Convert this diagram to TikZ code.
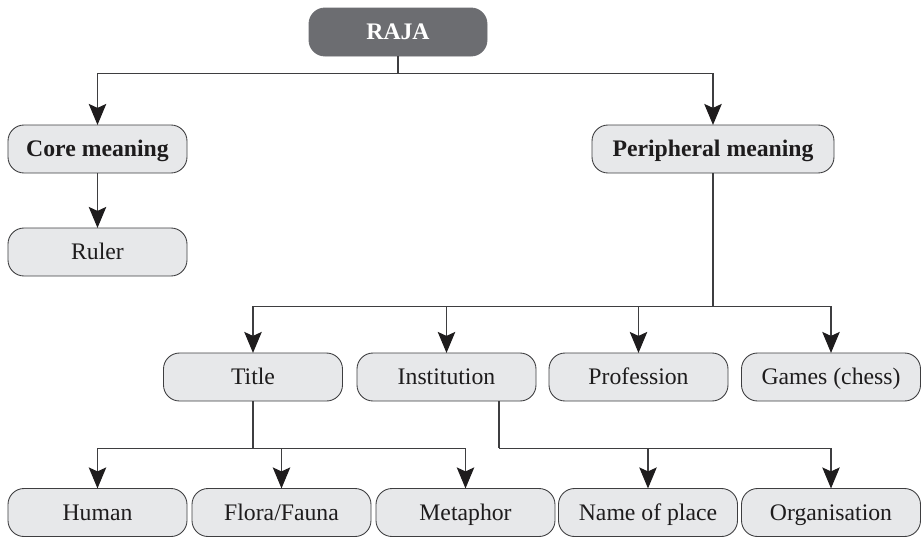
\documentclass[tikz,border=0pt]{standalone}
\usepackage{fontspec}
\setmainfont{Liberation Serif}
\usepackage{tikz}
\usepackage{xcolor}
\usetikzlibrary{arrows.meta,positioning,shapes.geometric}
\definecolor{boxfill}{RGB}{231, 232, 234}
\definecolor{boxline}{RGB}{62, 62, 64}
\definecolor{rootfill}{RGB}{108, 109, 113}
\definecolor{ink}{RGB}{30, 28, 29}
\tikzstyle{meaning} = [
    rectangle,
    rounded corners=3.2mm,
    minimum width=3.58cm,
    minimum height=0.96cm,
    text height=2.1ex,
    text depth=0.2ex,
    text centered,
    draw=boxline,
    line width=0.5pt,
    fill=boxfill,
    text=ink,
    font=\fontsize{13.5}{15}\selectfont
]
\tikzstyle{root} = [
    meaning,
    fill=rootfill,
    draw=rootfill,
    text=white,
    minimum width=3.56cm,
    font=\fontsize{13.5}{15}\selectfont\bfseries
]
\tikzstyle{link} = [
    line width=0.6pt,
    draw=boxline
]
\tikzstyle{arrow} = [
    link,
    -{Stealth[length=4.2mm,width=3.5mm,inset=0.8mm,color=ink]},
    shorten >=-0.2pt
]
\begin{document}
\begin{tikzpicture}
    \useasboundingbox (0,0) rectangle (18.42,-10.76);
    % root and first level
    \node[root] (raja) at (7.96,-0.64) {RAJA};
    \node[meaning, font=\fontsize{13.5}{15}\selectfont\bfseries] (core) at (1.95,-2.98) {Core meaning};
    \node[meaning, font=\fontsize{13.5}{15}\selectfont\bfseries, minimum width=4.84cm] (peri) at (14.26,-2.98) {Peripheral meaning};
    \node[meaning] (ruler) at (1.95,-5.04) {Ruler};
    % second level
    \node[meaning] (title) at (5.06,-7.54) {Title};
    \node[meaning] (inst) at (8.93,-7.54) {Institution};
    \node[meaning] (prof) at (12.77,-7.54) {Profession};
    \node[meaning] (games) at (16.62,-7.54) {Games (chess)};
    % third level
    \node[meaning] (human) at (1.95,-10.25) {Human};
    \node[meaning] (flora) at (5.63,-10.25) {Flora/Fauna};
    \node[meaning] (meta) at (9.31,-10.25) {Metaphor};
    \node[meaning] (place) at (12.96,-10.25) {Name of place};
    \node[meaning] (org) at (16.62,-10.25) {Organisation};

    % connectors
    \draw[link] (raja.south) -- ++(0,-0.34) coordinate (rb);
    \draw[arrow] (rb) -| (core);
    \draw[arrow] (rb) -| (peri);
    \draw[arrow] (core) -- (ruler);
    \draw[link] (peri.south) -- ++(0,-2.66) coordinate (pb);
    \foreach \n in {title,inst,prof,games}
        \draw[arrow] (pb) -| (\n);
    \draw[link] (title.south) -- ++(0,-0.94) coordinate (tb);
    \foreach \n in {human,flora,meta}
        \draw[arrow] (tb) -| (\n);
    \draw[link] ([xshift=1.05cm]inst.south) -- ++(0,-0.94) coordinate (ib);
    \foreach \n in {place,org}
        \draw[arrow] (ib) -| (\n);
\end{tikzpicture}
\end{document}
